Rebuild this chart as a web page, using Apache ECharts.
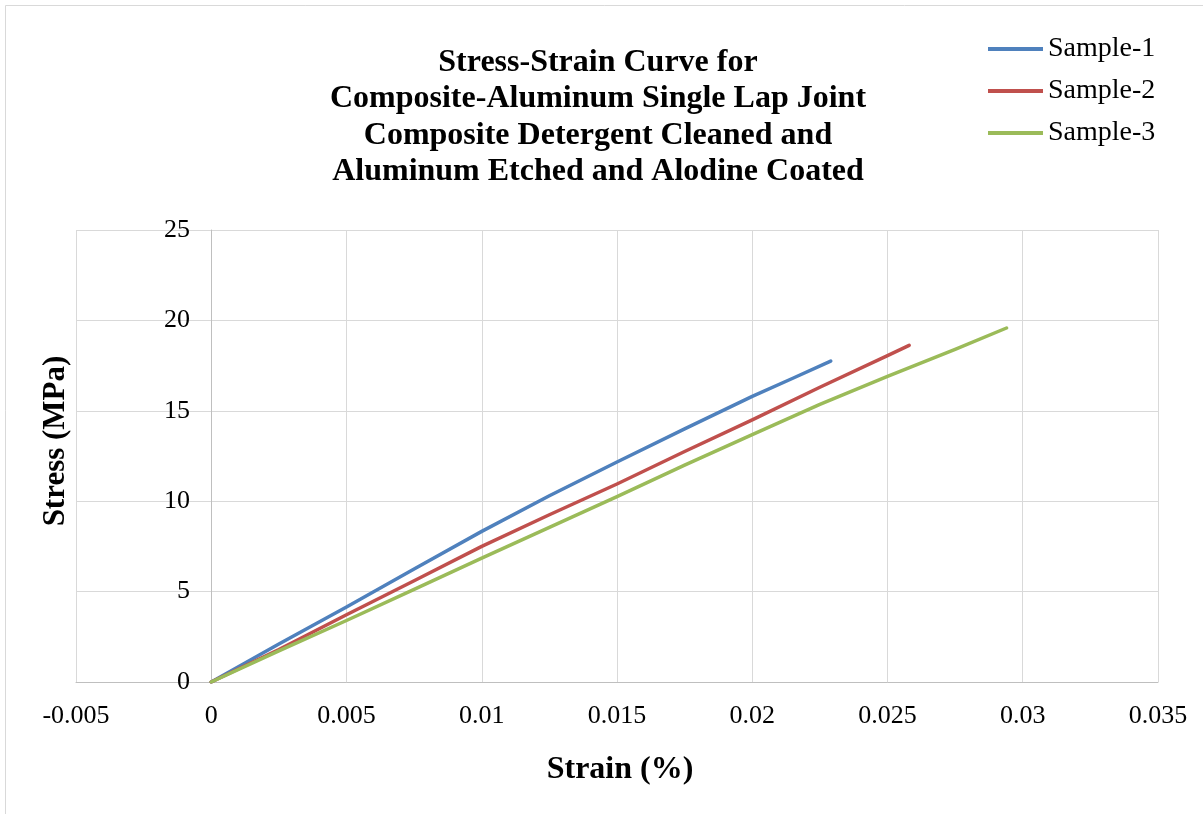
<!DOCTYPE html>
<html>
<head>
<meta charset="utf-8">
<script src="https://cdn.jsdelivr.net/npm/echarts@6/dist/echarts.min.js"></script>
<style>
  html, body { margin: 0; padding: 0; background: #ffffff; }
  #chart { width: 1203px; height: 814px; }
</style>
</head>
<body>
<div id="chart"></div>
<script>
// Lap-shear test readings: [strain, stress in MPa]
const sample1 = [
  [0, 0], [0.0025, 2.1], [0.005, 4.15], [0.0075, 6.25], [0.01, 8.33],
  [0.0125, 10.3], [0.015, 12.17], [0.0175, 14.0], [0.02, 15.8],
  [0.0215, 16.8], [0.0229, 17.75]
];
const sample2 = [
  [0, 0], [0.0025, 1.8], [0.005, 3.72], [0.0075, 5.6], [0.01, 7.5],
  [0.0125, 9.25], [0.015, 10.95], [0.0175, 12.75], [0.02, 14.5],
  [0.0225, 16.3], [0.025, 18.05], [0.0258, 18.62]
];
const sample3 = [
  [0, 0], [0.0025, 1.72], [0.005, 3.4], [0.0075, 5.12], [0.01, 6.85],
  [0.0125, 8.55], [0.015, 10.25], [0.0175, 12.0], [0.02, 13.68],
  [0.0225, 15.35], [0.025, 16.9], [0.0275, 18.4], [0.0294, 19.58]
];
const seriesNames = ['Sample-1', 'Sample-2', 'Sample-3'];
const seriesColors = ['#4f81bd', '#c0504d', '#9bbb59'];
const titleLines = [
  'Stress-Strain Curve for',
  'Composite-Aluminum Single Lap Joint',
  'Composite Detergent Cleaned and',
  'Aluminum Etched and Alodine Coated'
];
const xAxisTitle = 'Strain (%)';
const yAxisTitle = 'Stress (MPa)';

const FONT = '"Liberation Serif", "Times New Roman", serif';
const chart = echarts.init(document.getElementById('chart'));

const lineSeries = [sample1, sample2, sample3].map((d, i) => ({
  name: seriesNames[i],
  type: 'line',
  data: d,
  showSymbol: false,
  symbol: 'none',
  smooth: false,
  lineStyle: { width: 3.5, color: seriesColors[i], cap: 'round', join: 'round' },
  itemStyle: { color: seriesColors[i] },
  emphasis: { disabled: true }
}));

chart.setOption({
  animation: false,
  backgroundColor: '#ffffff',
  textStyle: { fontFamily: FONT },
  graphic: [
    {
      type: 'rect', x: 5.5, y: 5.5, silent: true, z: -10,
      shape: { width: 1300, height: 900 },
      style: { fill: 'none', stroke: '#d9d9d9', lineWidth: 1 }
    },
    {
      type: 'text', x: 598, y: 44,
      style: {
        text: titleLines.join('\n'),
        font: 'bold 32px ' + FONT,
        fill: '#000', align: 'center', verticalAlign: 'top', lineHeight: 36.5
      }
    },
    {
      type: 'text', x: 620, y: 770,
      style: {
        text: xAxisTitle, font: 'bold 32px ' + FONT, fill: '#000',
        align: 'center', verticalAlign: 'middle'
      }
    },
    {
      type: 'text', x: 56, y: 441, rotation: Math.PI / 2,
      style: {
        text: yAxisTitle, font: 'bold 31px ' + FONT, fill: '#000',
        align: 'center', verticalAlign: 'middle'
      }
    }
  ],
  legend: {
    orient: 'vertical',
    left: 988, top: 34, padding: 0,
    itemWidth: 55, itemHeight: 4, itemGap: 12,
    icon: 'rect',
    data: seriesNames,
    textStyle: { fontFamily: FONT, fontSize: 28, color: '#000', lineHeight: 30 }
  },
  grid: { left: 76, right: 45, top: 230, bottom: 132, containLabel: false },
  xAxis: {
    type: 'value', min: -0.005, max: 0.035, interval: 0.005,
    axisLine: { onZero: true, lineStyle: { color: '#bfbfbf', width: 1 } },
    axisTick: { show: false },
    axisLabel: {
      color: '#000', fontSize: 26, fontFamily: FONT, margin: 21,
      formatter: v => String(parseFloat(v.toFixed(4)))
    },
    splitLine: { show: true, lineStyle: { color: '#d9d9d9', width: 1 } }
  },
  yAxis: {
    type: 'value', min: 0, max: 25, interval: 5,
    axisLine: { show: true, onZero: true, lineStyle: { color: '#bfbfbf', width: 1 } },
    axisTick: { show: false },
    // labels sit beside the vertical axis drawn through strain = 0
    axisLabel: { color: '#000', fontSize: 26, fontFamily: FONT, margin: -114 },
    splitLine: { show: true, lineStyle: { color: '#d9d9d9', width: 1 } }
  },
  series: lineSeries
});
</script>
</body>
</html>
